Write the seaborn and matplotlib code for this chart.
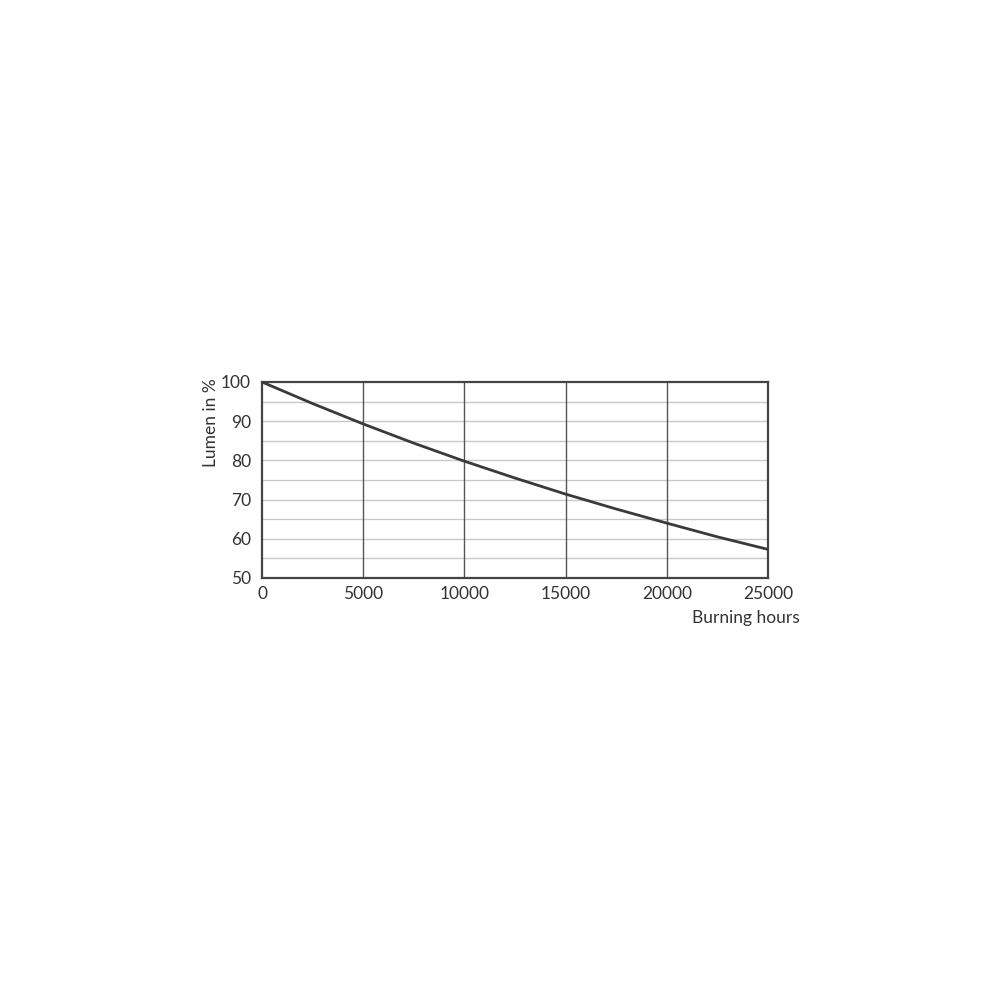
import numpy as np
import pandas as pd
import seaborn as sns
import matplotlib.pyplot as plt

# --- data ---
hours = [0, 2500, 5000, 7500, 10000, 12500, 15000, 17500, 20000, 22500, 25000]
lumen = [100, 94.5, 89.3, 84.4, 79.8, 75.5, 71.4, 67.6, 64.0, 60.5, 57.3]
x_ticks = [0, 5000, 10000, 15000, 20000, 25000]
y_ticks = [50, 60, 70, 80, 90, 100]

df = pd.DataFrame({'hours': hours, 'lumen': lumen})

sns.set_style('white')
plt.rcParams['font.family'] = ['Lato', 'DejaVu Sans']

fig = plt.figure(figsize=(10, 10), dpi=100)
ax = fig.add_axes([0.262, 0.422, 0.506, 0.196])

# light horizontal grid every 5 %
for y in np.arange(55, 100, 5):
    ax.axhline(y, color='#c8c8c8', lw=1.0, zorder=1)
# dark vertical grid every 5000 h
for x in x_ticks[1:-1]:
    ax.axvline(x, color='#555555', lw=1.0, zorder=1)

sns.lineplot(data=df, x='hours', y='lumen', color='#3a3a3a', lw=2.0, ax=ax, zorder=3)

ax.set_xlim(0, 25000)
ax.set_ylim(50, 100)
ax.set_xticks(x_ticks)
ax.set_yticks(y_ticks)
ax.tick_params(length=0, labelsize=12.5, colors='#333333')
ax.tick_params(axis='x', pad=6)
ax.tick_params(axis='y', pad=8)
ax.set_xlabel('')
ax.set_ylabel('')
for s in ax.spines.values():
    s.set_color('#444444')
    s.set_linewidth(1.6)

fig.text(0.211, 0.622, 'Lumen in %', rotation=90, ha='center', va='top',
         fontsize=12.5, color='#333333')
fig.text(0.800, 0.382, 'Burning hours', ha='right', va='center',
         fontsize=12.5, color='#333333')

plt.savefig('out.png', dpi=100)
plt.close()
